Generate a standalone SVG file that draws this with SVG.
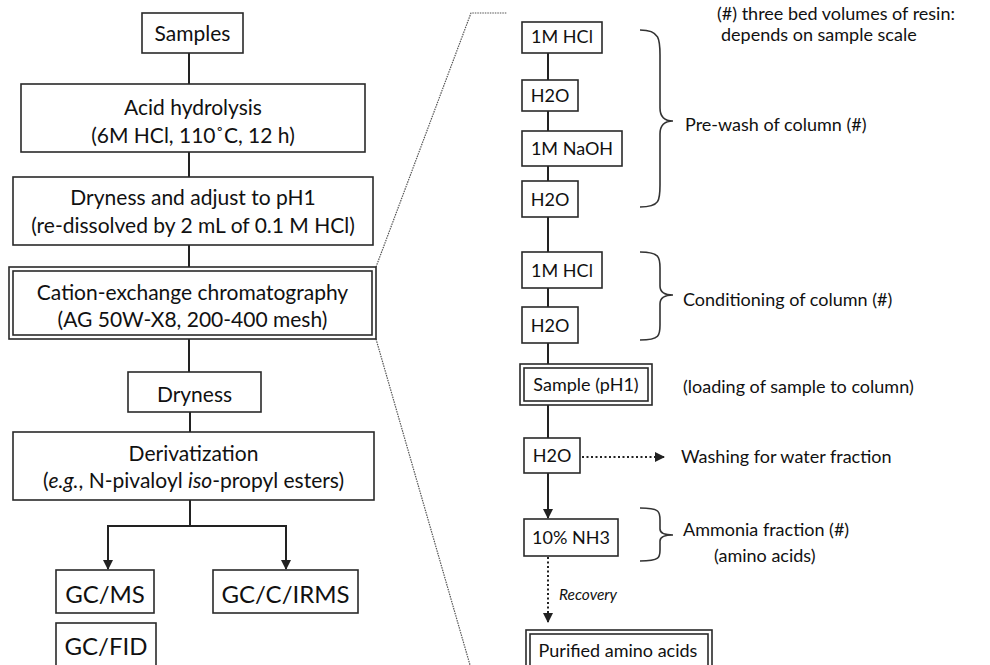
<svg xmlns="http://www.w3.org/2000/svg" width="990" height="665" viewBox="0 0 990 665">
<defs>
<style>
.box{fill:#fff;stroke:#2a2a2a;stroke-width:1.6}
.ln{fill:none;stroke:#222;stroke-width:2}
.dot{fill:none;stroke:#222;stroke-width:2;stroke-dasharray:2 2.5}
.zoom{fill:none;stroke:#555;stroke-width:1.2;stroke-dasharray:1.5 1}
.brace{fill:none;stroke:#333;stroke-width:1.6}
text{font-family:Lato,"Open Sans","DejaVu Sans",sans-serif;fill:#111}
.L{font-size:21px;text-anchor:middle}
.G{font-size:24px;text-anchor:middle}
.R{font-size:18px;text-anchor:middle}
.T{font-size:18px}
.I{font-size:15.5px;font-style:italic}
</style>
<marker id="ah" viewBox="0 0 10 10" refX="9" refY="5" markerWidth="5" markerHeight="5" orient="auto" markerUnits="strokeWidth">
<path d="M0,0 L10,5 L0,10 z" fill="#222"/>
</marker>
</defs>
<rect width="990" height="665" fill="#fff"/>

<g id="connectors">
<line class="ln" x1="189" y1="53" x2="189" y2="84"/>
<line class="ln" x1="189" y1="152" x2="189" y2="177"/>
<line class="ln" x1="189" y1="245" x2="189" y2="267"/>
<line class="ln" x1="189" y1="339" x2="189" y2="372"/>
<line class="ln" x1="190" y1="412" x2="190" y2="432"/>
<path class="ln" d="M190,500 V526 M108,526 H286"/>
<line class="ln" x1="108" y1="525" x2="108" y2="569" marker-end="url(#ah)"/>
<line class="ln" x1="286" y1="525" x2="286" y2="569" marker-end="url(#ah)"/>
<path class="zoom" d="M376,267 L471,13 H507"/>
<path class="zoom" d="M376,339 L470,665"/>
<line class="ln" x1="548" y1="53" x2="548" y2="80"/>
<line class="ln" x1="548" y1="111" x2="548" y2="131"/>
<line class="ln" x1="548" y1="166" x2="548" y2="181"/>
<line class="ln" x1="548" y1="217" x2="548" y2="252"/>
<line class="ln" x1="548" y1="288" x2="548" y2="307"/>
<line class="ln" x1="548" y1="343" x2="548" y2="364"/>
<line class="ln" x1="548" y1="405" x2="548" y2="438"/>
<line class="ln" x1="548" y1="473" x2="548" y2="518" marker-end="url(#ah)"/>
<line class="dot" x1="582" y1="457" x2="664" y2="457" marker-end="url(#ah)"/>
<line class="dot" x1="548" y1="557" x2="548" y2="622" marker-end="url(#ah)"/>
<path class="brace" d="M640,30 C660,30 660,40 660,55 V108 C660,116 664,121 673,121 C664,121 660,126 660,134 V185 C660,200 660,207 640,207"/>
<path class="brace" d="M640,252 C660,252 660,258 660,268 V286 C660,292 664,295 673,295 C664,295 660,298 660,304 V325 C660,335 660,340 640,340"/>
<path class="brace" d="M640,508 C660,508 660,512 660,520 V529 C660,533 664,535 673,535 C664,535 660,537 660,541 V550 C660,557 660,561 640,561"/>
</g>

<g id="samples"><rect class="box" x="142" y="13" width="101" height="40"/><text class="L" x="192.5" y="40.5">Samples</text></g>
<g id="hydrolysis"><rect class="box" x="21" y="84" width="344" height="68"/><text class="L" x="193" y="115">Acid hydrolysis</text><text class="L" x="193" y="143">(6M HCl, 110˚C, 12 h)</text></g>
<g id="dryness-ph"><rect class="box" x="13" y="177" width="360" height="68"/><text class="L" x="193" y="205">Dryness and adjust to pH1</text><text class="L" x="193" y="233">(re-dissolved by 2 mL of 0.1 M HCl)</text></g>
<g id="cation"><rect class="box" x="9" y="267" width="367" height="72"/><rect class="box" x="13" y="271" width="359" height="64"/><text class="L" x="192.5" y="300">Cation-exchange chromatography</text><text class="L" x="192.5" y="327">(AG 50W-X8, 200-400 mesh)</text></g>
<g id="dryness"><rect class="box" x="128" y="372" width="133" height="40"/><text class="L" x="194.5" y="402">Dryness</text></g>
<g id="derivatization"><rect class="box" x="13" y="432" width="361" height="68"/><text class="L" x="193.5" y="461">Derivatization</text><text class="L" x="193.5" y="488">(<tspan font-style="italic">e.g.</tspan>, N-pivaloyl <tspan font-style="italic">iso</tspan>-propyl esters)</text></g>
<g id="gcms"><rect class="box" x="56" y="570" width="98" height="43"/><text class="G" x="105" y="603">GC/MS</text></g>
<g id="gcirms"><rect class="box" x="213" y="570" width="145" height="43"/><text class="G" x="285.5" y="603">GC/C/IRMS</text></g>
<g id="gcfid"><rect class="box" x="56" y="623" width="100" height="46"/><text class="G" x="106" y="655">GC/FID</text></g>

<g id="note"><text class="T" x="717" y="20">(#) three bed volumes of resin:</text><text class="T" x="721" y="41">depends on sample scale</text></g>
<g id="hcl1"><rect class="box" x="522" y="22" width="80" height="31"/><text class="R" x="562" y="43">1M HCl</text></g>
<g id="h2o1"><rect class="box" x="522" y="80" width="56" height="31"/><text class="R" x="550" y="101.5">H2O</text></g>
<g id="naoh"><rect class="box" x="522" y="131" width="100" height="35"/><text class="R" x="572" y="154.5">1M NaOH</text></g>
<g id="h2o2"><rect class="box" x="522" y="181" width="56" height="36"/><text class="R" x="550" y="205.5">H2O</text></g>
<g id="prewash"><text class="T" x="685" y="131">Pre-wash of column (#)</text></g>
<g id="hcl2"><rect class="box" x="522" y="252" width="80" height="36"/><text class="R" x="562" y="276.5">1M HCl</text></g>
<g id="h2o3"><rect class="box" x="522" y="307" width="56" height="36"/><text class="R" x="550" y="331.5">H2O</text></g>
<g id="conditioning"><text class="T" x="683" y="306">Conditioning of column (#)</text></g>
<g id="sample"><rect class="box" x="520" y="364" width="132" height="41"/><rect class="box" x="524" y="368" width="124" height="33"/><text class="R" x="586" y="391">Sample (pH1)</text></g>
<g id="loading"><text class="T" x="683" y="393">(loading of sample to column)</text></g>
<g id="h2o4"><rect class="box" x="524" y="438" width="56" height="35"/><text class="R" x="552" y="462">H2O</text></g>
<g id="washing"><text class="T" x="681" y="463">Washing for water fraction</text></g>
<g id="nh3"><rect class="box" x="524" y="519" width="94" height="37"/><text class="R" x="571" y="544">10% NH3</text></g>
<g id="ammonia"><text class="T" x="683" y="536">Ammonia fraction (#)</text><text class="T" x="714" y="562">(amino acids)</text></g>
<g id="recovery"><text class="I" x="559" y="600">Recovery</text></g>
<g id="purified"><rect class="box" x="526" y="630" width="186" height="42"/><rect class="box" x="530" y="634" width="178" height="40"/><text class="R" x="618" y="657">Purified amino acids</text></g>
</svg>
